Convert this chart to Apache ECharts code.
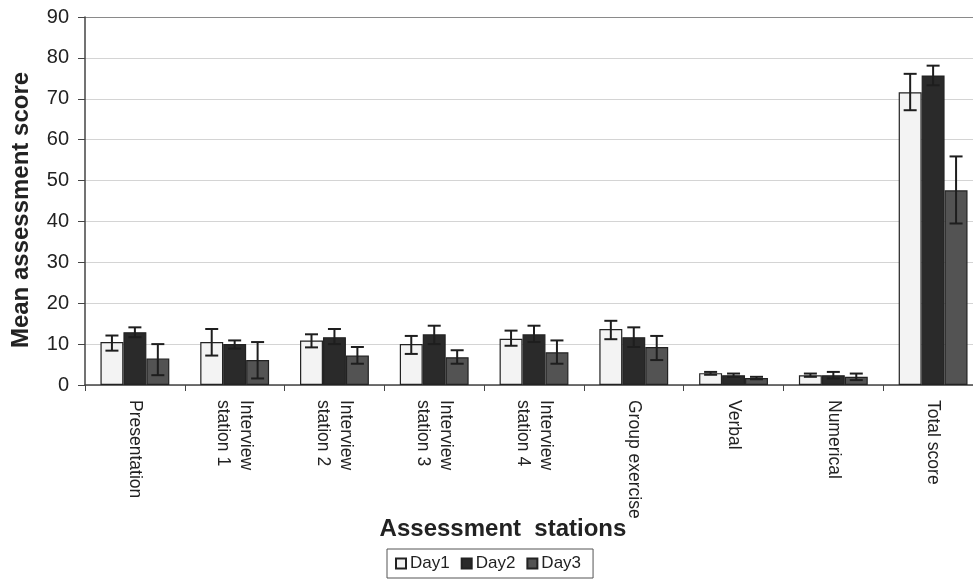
<!DOCTYPE html>
<html>
<head>
<meta charset="utf-8">
<script src="https://cdn.jsdelivr.net/npm/echarts@6/dist/echarts.min.js"></script>
<style>
html,body{margin:0;padding:0;background:#fff;overflow:hidden;width:973px;height:582px;}
#main{width:985px;height:582px;}
</style>
</head>
<body>
<div id="main"></div>
<script>
var categories = ['Presentation', 'Interview\nstation 1', 'Interview\nstation 2', 'Interview\nstation 3', 'Interview\nstation 4', 'Group exercise', 'Verbal', 'Numerical', 'Total score'];
var seriesNames = ['Day1', 'Day2', 'Day3'];

var day1Mean = [10.5, 10.5, 10.9, 10.0, 11.3, 13.7, 2.9, 2.4, 71.6];
var day1Low  = [8.4, 7.2, 9.2, 7.6, 9.6, 11.2, 2.5, 2.0, 67.2];
var day1High = [12.1, 13.7, 12.4, 12.0, 13.3, 15.7, 3.2, 2.8, 76.1];

var day2Mean = [12.9, 10.0, 11.7, 12.4, 12.4, 11.7, 2.4, 2.4, 75.7];
var day2Low  = [11.7, 8.9, 10.0, 10.0, 10.5, 9.3, 2.0, 1.6, 73.3];
var day2High = [14.1, 10.9, 13.7, 14.5, 14.5, 14.1, 2.8, 3.2, 78.1];

var day3Mean = [6.5, 6.1, 7.2, 6.8, 8.0, 9.3, 1.7, 2.0, 47.6];
var day3Low  = [2.4, 1.6, 5.2, 5.2, 5.2, 6.1, 1.4, 1.2, 39.5];
var day3High = [10.0, 10.5, 9.3, 8.5, 10.9, 12.0, 2.0, 2.8, 55.9];

var yTicks = [0, 10, 20, 30, 40, 50, 60, 70, 80, 90];

var means = [day1Mean, day2Mean, day3Mean];
var lows = [day1Low, day2Low, day3Low];
var highs = [day1High, day2High, day3High];
var colors = ['#f3f3f3', '#2a2a2a', '#535353'];
var offsets = [-0.23, 0, 0.23];

function errRenderer(frac) {
  return function (params, api) {
    var cat = api.value(0);
    var lo = api.coord([cat, api.value(1)]);
    var hi = api.coord([cat, api.value(2)]);
    var bw = api.size([1, 0])[0];
    var x = lo[0] + frac * bw;
    var cap = 6.5;
    var st = {stroke: '#1e1e1e', lineWidth: 2};
    return {
      type: 'group',
      children: [
        {type: 'line', shape: {x1: x, y1: hi[1], x2: x, y2: lo[1]}, style: st},
        {type: 'line', shape: {x1: x - cap, y1: hi[1], x2: x + cap, y2: hi[1]}, style: st},
        {type: 'line', shape: {x1: x - cap, y1: lo[1], x2: x + cap, y2: lo[1]}, style: st}
      ]
    };
  };
}

var series = [];
for (var i = 0; i < 3; i++) {
  series.push({
    name: seriesNames[i],
    type: 'bar',
    data: means[i],
    barGap: '0%',
    barCategoryGap: '31%',
    itemStyle: {color: colors[i], borderColor: '#222', borderWidth: 1.2},
    z: 2
  });
}
for (var j = 0; j < 3; j++) {
  var d = [];
  for (var k = 0; k < categories.length; k++) d.push([k, lows[j][k], highs[j][k]]);
  series.push({
    name: 'err' + j,
    type: 'custom',
    renderItem: errRenderer(offsets[j]),
    encode: {x: 0, y: [1, 2]},
    data: d,
    clip: false,
    z: 5
  });
}

var chart = echarts.init(document.getElementById('main'), null, {renderer: 'canvas'});
chart.setOption({
  animation: false,
  backgroundColor: '#fff',
  textStyle: {fontFamily: 'Liberation Sans, Arial, sans-serif'},
  grid: {left: 85, right: 2, top: 17, bottom: 197, containLabel: false},
  legend: {
    data: seriesNames,
    left: 387,
    top: 549,
    itemWidth: 10,
    itemHeight: 10,
    itemGap: 11,
    padding: [6, 12, 6, 8],
    borderColor: '#555',
    borderWidth: 1,
    borderRadius: 0,
    icon: 'rect',
    textStyle: {fontSize: 17, color: '#222', padding: [0, 0, 0, -1]}
  },
  xAxis: {
    type: 'category',
    data: categories,
    axisLine: {lineStyle: {color: '#444', width: 1.5}},
    axisTick: {show: true, length: 6, lineStyle: {color: '#444'}},
    axisLabel: {
      interval: 0,
      rotate: -90,
      fontSize: 17.5,
      color: '#222',
      margin: 15,
      lineHeight: 23
    }
  },
  yAxis: {
    type: 'value',
    min: 0,
    max: 90,
    interval: 10,
    axisLine: {show: true, lineStyle: {color: '#444', width: 1.5}},
    axisTick: {show: true, length: 7, lineStyle: {color: '#444'}},
    axisLabel: {
      fontSize: 20,
      color: '#222',
      margin: 16,
      formatter: function (v) { return yTicks.indexOf(v) >= 0 ? String(v) : ''; }
    },
    splitLine: {show: true, lineStyle: {color: ['#d4d4d4', '#d4d4d4', '#d4d4d4', '#d4d4d4', '#d4d4d4', '#d4d4d4', '#d4d4d4', '#d4d4d4', '#d4d4d4', '#8a8a8a'], width: 1}}
  },
  graphic: [
    {
      type: 'text',
      x: 21, y: 210,
      rotation: Math.PI / 2,
      style: {
        text: 'Mean assessment score',
        font: 'bold 24px "Liberation Sans", Arial, sans-serif',
        fill: '#222',
        textAlign: 'center',
        textVerticalAlign: 'middle'
      }
    },
    {
      type: 'text',
      x: 503, y: 529,
      style: {
        text: 'Assessment  stations',
        font: 'bold 24px "Liberation Sans", Arial, sans-serif',
        fill: '#222',
        textAlign: 'center',
        textVerticalAlign: 'middle'
      }
    }
  ],
  series: series
});
</script>
</body>
</html>
